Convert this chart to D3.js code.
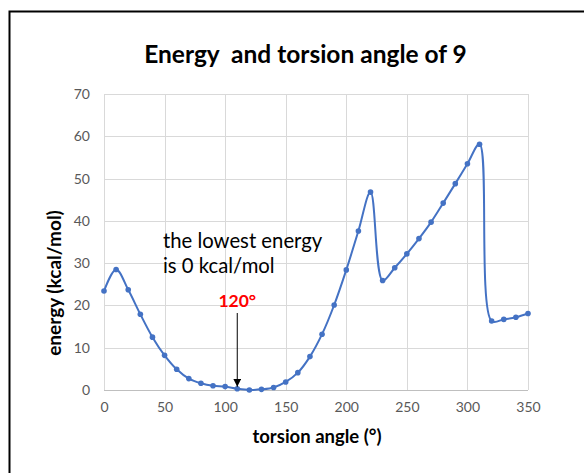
<!DOCTYPE html>
<html>
<head>
<meta charset="utf-8">
<script src="https://cdn.jsdelivr.net/npm/d3@7"></script>
<style>
  body { margin: 0; background: #fff; }
  svg { display: block; font-family: Lato, "Open Sans", sans-serif; }
</style>
</head>
<body>
<div id="chart"></div>
<script>
// torsion angle (deg) and energy (kcal/mol)
var angles = [0, 10, 20, 30, 40, 50, 60, 70, 80, 90, 100, 110, 120, 130, 140, 150, 160, 170,
              180, 190, 200, 210, 220, 230, 240, 250, 260, 270, 280, 290, 300, 310, 320, 330, 340, 350];
var energies = [23.4, 28.5, 23.7, 17.9, 12.5, 8.2, 4.9, 2.7, 1.6, 1.0, 0.8, 0.3, 0.0, 0.15, 0.6, 1.9, 4.1, 7.9,
                13.2, 20.1, 28.4, 37.6, 46.8, 25.9, 28.9, 32.2, 35.8, 39.7, 44.2, 48.8, 53.5, 58.1, 16.3, 16.7, 17.2, 18.1];
var xTicks = [0, 50, 100, 150, 200, 250, 300, 350];
var yTicks = [0, 10, 20, 30, 40, 50, 60, 70];
var noteLines = ["the lowest energy", "is 0 kcal/mol"];
var noteAngle = 110;

var W = 584, H = 473;
var margin = {top: 94, right: 56, bottom: 83, left: 104},
    width = W - margin.left - margin.right,
    height = H - margin.top - margin.bottom;

var data = angles.map(function(a, i) { return {angle: a, energy: energies[i]}; });

var root = d3.select("#chart").append("svg")
    .attr("width", W)
    .attr("height", H);

// chart frame
root.append("rect")
    .attr("x", 9.5).attr("y", 11.5)
    .attr("width", W).attr("height", H)
    .attr("fill", "#fff")
    .attr("stroke", "#000")
    .attr("stroke-width", 2);

root.append("text")
    .attr("x", 305.5).attr("y", 63)
    .attr("text-anchor", "middle")
    .attr("font-size", 24.5)
    .attr("font-weight", "bold")
    .attr("fill", "#000")
    .attr("xml:space", "preserve")
    .style("white-space", "pre")
    .text("Energy  and torsion angle of 9");

var svg = root.append("g")
    .attr("transform", "translate(" + margin.left + "," + margin.top + ")");

var x = d3.scaleLinear().domain([0, 350]).range([0, width]);
var y = d3.scaleLinear().domain([0, 70]).range([height, 0]);

// gridlines
svg.append("g")
    .selectAll("line.h")
    .data(yTicks)
    .enter().append("line")
    .attr("x1", 0).attr("x2", width)
    .attr("y1", function(d) { return Math.round(y(d)) + 0.5; })
    .attr("y2", function(d) { return Math.round(y(d)) + 0.5; })
    .attr("stroke", function(d) { return d == 0 ? "#bfbfbf" : "#d9d9d9"; })
    .attr("stroke-width", 1);

svg.append("g")
    .selectAll("line.v")
    .data(xTicks)
    .enter().append("line")
    .attr("y1", 0).attr("y2", height)
    .attr("x1", function(d) { return Math.round(x(d)) + 0.5; })
    .attr("x2", function(d) { return Math.round(x(d)) + 0.5; })
    .attr("stroke", "#d9d9d9")
    .attr("stroke-width", 1);

// axes (labels only, Excel style)
var xAxis = svg.append("g")
    .attr("transform", "translate(0," + height + ")")
    .call(d3.axisBottom(x).tickValues(xTicks).tickSize(0).tickPadding(12));
var yAxis = svg.append("g")
    .call(d3.axisLeft(y).tickValues(yTicks).tickSize(0).tickPadding(14));
[xAxis, yAxis].forEach(function(ax) {
  ax.select(".domain").remove();
  ax.selectAll("text")
    .attr("fill", "#595959")
    .attr("font-size", 14)
    .attr("font-family", "Lato, 'Open Sans', sans-serif");
});

// series
svg.append("path")
    .datum(data)
    .attr("fill", "none")
    .attr("stroke", "#4472C4")
    .attr("stroke-width", 2)
    .attr("d", d3.line()
        .curve(d3.curveCatmullRom.alpha(0.5))
        .x(function(d) { return x(d.angle); })
        .y(function(d) { return y(d.energy); })
    );

svg.append("g")
    .selectAll("circle")
    .data(data)
    .enter().append("circle")
    .attr("cx", function(d) { return x(d.angle); })
    .attr("cy", function(d) { return y(d.energy); })
    .attr("r", 2.8)
    .attr("fill", "#4472C4");

// annotation
svg.append("text")
    .attr("x", 163 - margin.left).attr("y", 248 - margin.top)
    .attr("font-size", 20.3)
    .attr("fill", "#000")
    .selectAll("tspan")
    .data(noteLines)
    .enter().append("tspan")
    .attr("x", 163 - margin.left)
    .attr("dy", function(d, i) { return i ? 25 : 0; })
    .text(function(d) { return d; });

svg.append("text")
    .attr("x", x(noteAngle)).attr("y", 307 - margin.top)
    .attr("text-anchor", "middle")
    .attr("font-size", 17.5)
    .attr("font-weight", "bold")
    .attr("fill", "#ff0000")
    .text("120°");

root.append("defs").append("marker")
    .attr("id", "arrow")
    .attr("viewBox", "0 0 10 10")
    .attr("refX", 10).attr("refY", 5)
    .attr("markerWidth", 8).attr("markerHeight", 8)
    .attr("markerUnits", "userSpaceOnUse")
    .attr("orient", "auto")
    .append("path")
    .attr("d", "M0,0L10,5L0,10z")
    .attr("fill", "#000");

svg.append("line")
    .attr("x1", x(noteAngle)).attr("x2", x(noteAngle))
    .attr("y1", 313 - margin.top).attr("y2", y(0.3) - 2)
    .attr("stroke", "#000")
    .attr("stroke-width", 1)
    .attr("marker-end", "url(#arrow)");

// axis titles
root.append("text")
    .attr("x", 317).attr("y", 443)
    .attr("text-anchor", "middle")
    .attr("font-size", 18.5)
    .attr("font-weight", "bold")
    .attr("fill", "#000")
    .text("torsion angle (°)");

root.append("text")
    .attr("transform", "translate(61,283) rotate(-90)")
    .attr("text-anchor", "middle")
    .attr("font-size", 19)
    .attr("font-weight", "bold")
    .attr("fill", "#000")
    .text("energy (kcal/mol)");
</script>
</body>
</html>
